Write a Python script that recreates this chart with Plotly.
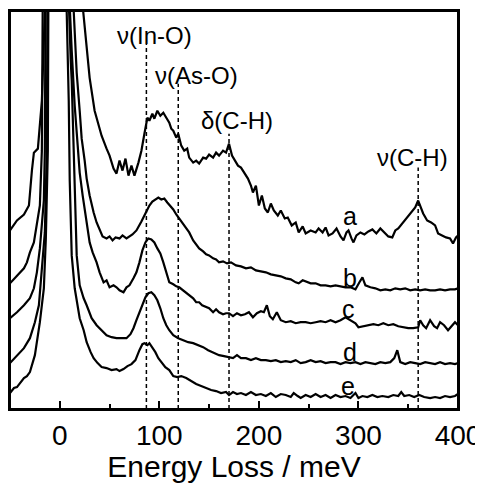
import plotly.graph_objects as go

# Energy loss (meV) and intensity (arb. units, offset) for each spectrum
a_x = [-50,-43,-36,-31,-28,-26,-22,-18,-15,-13,-2,21,23,29,30,35,42,47,50,54,57,60,63,66,69,72,75,79,82,85,88,90,93,95,98,101,104,107,110,112,114,117,119,122,125,128,130,134,137,140,144,147,150,154,157,160,164,167,170,173,176,179,182,185,189,192,194,197,200,203,206,209,212,215,219,222,226,229,233,237,240,244,247,252,257,260,264,267,270,274,278,282,285,288,290,293,295,298,302,306,310,314,318,322,326,330,334,337,340,344,347,351,354,357,360,362,365,369,373,377,380,384,388,392,395,398,400]
a_y = [179,189,195,204,239,257,261,309,399,439,3000,420,404,346,332,299,274,261,254,241,236,249,239,251,234,244,234,247,259,276,292,289,296,291,299,294,297,292,287,281,279,272,276,264,259,261,252,247,249,246,252,251,255,252,257,254,259,257,266,254,249,244,242,237,231,224,217,224,204,214,201,197,206,199,194,199,191,192,184,187,177,183,176,179,177,181,177,182,174,176,181,173,169,177,179,171,167,174,177,175,178,180,176,181,177,173,172,179,181,186,190,195,199,202,209,203,196,189,187,184,176,174,172,171,166,172,174]

b_x = [-50,-45,-40,-36,-33,-30,-26,-23,-20,-18,-16,-14.5,-13,-2,12,14,17,20,22,25,27,30,32,34,37,40,43,47,50,53,56,60,63,67,70,73,77,80,82,85,87,90,93,96,99,102,105,108,111,114,117,120,123,126,130,134,137,140,144,147,150,154,157,160,164,168,172,177,182,187,192,197,202,207,212,217,222,227,232,237,240,244,247,252,257,262,267,272,277,282,287,292,297,301,304,307,312,317,322,327,332,337,342,347,352,357,362,367,372,377,382,387,392,397,400]
b_y = [126,131,137,141,147,157,167,184,204,259,349,399,450,3000,440,404,337,299,271,249,231,214,204,197,187,179,173,171,173,169,172,171,174,171,173,175,179,184,188,194,198,204,208,210,212,210,211,207,204,200,195,191,187,183,177,169,165,161,158,155,154,151,150,147,148,146,147,144,143,141,142,139,138,137,135,134,133,131,130,127,126,129,128,126,126,124,124,123,124,123,122,122,120,127,132,124,122,121,119,120,119,121,120,121,119,120,119,120,119,119,120,119,120,120,121]

c_x = [-50,-43,-36,-30,-26,-23,-20,-18,-16,-15,-14,-13,-12,-2,9,10,12,15,18,20,23,25,28,30,33,37,40,44,47,50,54,57,60,64,67,70,74,77,80,83,86,89,92,95,98,101,104,107,110,114,117,120,124,127,130,134,137,140,143,146,150,154,157,160,164,167,170,174,178,182,186,190,194,198,202,205,208,211,214,218,222,227,232,237,242,247,252,257,262,267,272,277,282,287,292,297,300,305,310,315,320,325,330,335,340,345,350,355,360,362,365,368,372,376,379,382,386,390,394,397,400]
c_y = [91,97,104,111,121,137,161,184,209,259,329,399,450,3000,440,404,359,304,264,237,214,199,181,167,157,147,137,127,129,122,124,122,119,117,122,124,131,137,147,159,167,171,170,167,161,156,147,137,127,125,123,122,119,116,114,111,107,107,104,103,101,97,100,97,95,96,96,93,96,94,95,97,92,96,98,97,104,93,90,97,89,87,88,86,87,87,86,87,88,87,89,87,89,92,89,86,82,83,84,85,84,86,84,85,83,82,81,81,82,89,84,81,89,83,81,87,84,79,84,87,84]

d_x = [-50,-43,-36,-30,-25,-21,-18,-15,-13,-12,-11,-10,-2,8,9,11,12,14,16,17,20,24,27,32,37,42,47,52,57,62,67,71,74,77,80,83,86,89,92,95,98,101,104,107,110,114,119,124,129,134,139,144,149,154,160,165,170,174,178,182,187,192,197,202,207,212,217,222,227,232,237,242,247,252,257,262,267,272,277,282,287,292,297,302,307,312,317,322,327,332,336,339,342,347,352,357,362,367,372,377,382,387,392,397,400]
d_y = [46,54,61,71,87,104,137,177,259,349,399,450,3000,440,404,349,329,259,199,154,124,111,104,91,84,79,74,72,71,71,71,75,81,89,97,106,112,116,117,114,109,101,91,84,79,74,71,69,67,66,64,62,59,57,54,53,52,51,54,51,51,49,51,49,49,48,49,47,48,47,49,46,47,49,47,48,46,47,47,45,47,46,47,45,47,46,45,47,46,47,51,59,47,45,47,46,45,47,46,45,47,45,46,45,46]

e_x = [-50,-46,-43,-39,-36,-33,-30,-25,-22,-20,-16,-14,-12,-11,-10,-9,-2,6,7,9,10,11,12,15,18,20,24,27,31,34,38,42,47,52,57,60,64,68,72,76,80,83,85,88,90,93,96,99,102,106,110,114,118,122,127,132,137,142,147,152,157,162,167,170,174,178,182,187,192,197,202,207,212,217,222,227,232,235,239,242,247,252,257,262,267,272,277,282,287,292,297,300,304,309,314,319,324,330,335,340,343,346,351,356,361,366,372,377,382,387,392,397,400]
e_y = [16,21,22,27,31,33,37,54,74,87,121,171,259,329,399,450,3000,440,404,309,229,187,154,121,104,91,79,67,57,51,46,42,41,39,40,38,40,43,45,49,59,65,66,64,66,62,57,51,47,42,39,33,32,33,31,28,25,23,21,19,18,16,17,14,17,15,16,14,17,14,15,13,16,12,15,14,12,16,13,11,14,12,15,12,14,11,14,12,13,11,16,11,13,12,14,12,13,12,14,13,17,13,14,12,14,12,11,12,11,13,12,13,15]

series = [("a", a_x, a_y), ("b", b_x, b_y), ("c", c_x, c_y), ("d", d_x, d_y), ("e", e_x, e_y)]

# Curve labels (position in data units)
label_names = ["a", "b", "c", "d", "e"]
label_x = [292, 292, 290, 292, 290]
label_y = [193, 131, 100, 57, 23]

# Vibrational modes: energy (meV), top of marker line, label and label position
mode_energy = [87, 119, 170, 360]
mode_top = [366, 326, 276, 242]
mode_text = ["ν(In-O)", "ν(As-O)", "δ(C-H)", "ν(C-H)"]
mode_label_x = [95, 137, 178, 354]
mode_label_y = [374, 334, 289, 252]

x_ticks = [0, 100, 200, 300, 400]
x_range = [-50, 400]
y_range = [0, 399]

FONT = "Liberation Sans, Arial, sans-serif"

fig = go.Figure()
for name, xs, ys in series:
    fig.add_trace(go.Scatter(x=xs, y=ys, mode="lines", name=name,
                             line=dict(color="black", width=2.2),
                             showlegend=False, hoverinfo="skip"))

for e, top in zip(mode_energy, mode_top):
    fig.add_trace(go.Scatter(x=[e, e], y=[0, top], mode="lines",
                             line=dict(color="black", width=1.5, dash="4px,3px"),
                             showlegend=False, hoverinfo="skip"))

annotations = []
for t, x, y in zip(mode_text, mode_label_x, mode_label_y):
    annotations.append(dict(x=x, y=y, xref="x", yref="y", text=t, showarrow=False,
                            font=dict(family=FONT, size=24, color="black"),
                            xanchor="center", yanchor="middle"))
for t, x, y in zip(label_names, label_x, label_y):
    annotations.append(dict(x=x, y=y, xref="x", yref="y", text=t, showarrow=False,
                            font=dict(family=FONT, size=25, color="black"),
                            xanchor="center", yanchor="middle"))

shapes = [dict(type="rect", xref="paper", yref="paper", x0=0, x1=1, y0=0, y1=1,
               line=dict(color="black", width=2))]

fig.update_layout(
    width=475, height=475,
    margin=dict(l=2, r=25, t=3, b=74),
    paper_bgcolor="white", plot_bgcolor="white",
    font=dict(family=FONT, color="black"),
    annotations=annotations,
    shapes=shapes,
    xaxis=dict(range=x_range, tickvals=x_ticks, ticks="inside", ticklen=8, tickwidth=2,
               tickcolor="black", showline=True, linecolor="black", linewidth=2, mirror=True,
               showgrid=False, zeroline=False, tickfont=dict(size=28, family=FONT),
               minor=dict(ticks="inside", ticklen=5, tickwidth=2, dtick=50, tick0=0, tickcolor="black", showgrid=False),
               title=dict(text="Energy Loss / meV", font=dict(size=30, family=FONT), standoff=4),
               automargin=False),
    yaxis=dict(range=y_range, showticklabels=False, ticks="", showline=True, linecolor="black",
               linewidth=2, mirror=True, showgrid=False, zeroline=False, automargin=False),
)

fig.write_html("out.html")
